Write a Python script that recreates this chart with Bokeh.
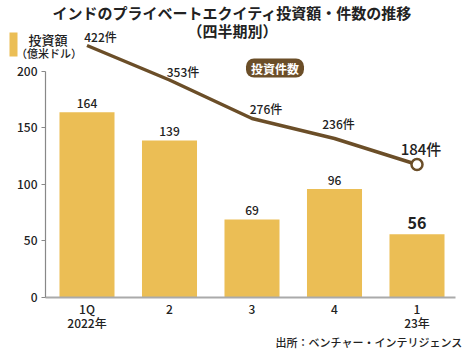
from bokeh.plotting import figure
from bokeh.models import Range1d, Label, FixedTicker, BoxAnnotation
from bokeh.embed import file_html
from bokeh.resources import INLINE

# ---- data ----
quarters = ["1Q\n2022年", "2", "3", "4", "1\n23年"]
amounts = [164, 139, 69, 96, 56]          # 投資額（億米ドル）
counts = [422, 353, 276, 236, 184]        # 投資件数
y_ticks = [0, 50, 100, 150, 200]

title1 = "インドのプライベートエクイティ投資額・件数の推移"
title2 = "（四半期別）"
legend1 = "投資額"
legend2 = "（億米ドル）"
badge = "投資件数"
source = "出所：ベンチャー・インテリジェンス"

JP = "Noto Sans CJK JP Medium, Noto Sans CJK JP"
JPB = "Noto Sans CJK JP"
BAR = "#EBBE55"
BROWN = "#6B4E28"
TXT = "#222222"
W, H = 465, 351
idx = list(range(len(quarters)))

# frame covers the whole canvas; axes are pinned with fixed_location
p = figure(width=W, height=H, output_backend="svg", toolbar_location=None,
           x_range=Range1d(-1.0485, 4.5879), y_range=Range1d(-47.79, 262.83),
           min_border=0)
p.extra_y_ranges = {"cnt": Range1d(-190, 512)}
p.outline_line_color = None
p.grid.visible = False
p.title.visible = False

# axes
p.yaxis.fixed_location = -0.503
p.yaxis.ticker = FixedTicker(ticks=y_ticks)
p.yaxis.bounds = (0, 200)
p.yaxis.axis_line_color = "#888888"
p.yaxis.axis_line_width = 1.2
p.yaxis.major_tick_line_color = "#888888"
p.yaxis.major_tick_in = 0
p.yaxis.major_tick_out = 4
p.yaxis.minor_tick_line_color = None
p.yaxis.major_label_standoff = 4
p.yaxis.major_label_text_font = JP
p.yaxis.major_label_text_font_size = "12px"
p.yaxis.major_label_text_color = TXT

p.xaxis.fixed_location = 0
p.xaxis.ticker = FixedTicker(ticks=idx)
p.xaxis.bounds = (-0.503, 4.467)
p.xaxis.major_label_overrides = {i: q for i, q in zip(idx, quarters)}
p.xaxis.axis_line_color = "#AAAAAA"
p.xaxis.axis_line_width = 2
p.xaxis.major_tick_line_color = None
p.xaxis.minor_tick_line_color = None
p.xaxis.major_tick_out = 0
p.xaxis.major_tick_in = 0
p.xaxis.major_label_standoff = 3
p.xaxis.major_label_text_line_height = 0.8
p.xaxis.major_label_text_font = JP
p.xaxis.major_label_text_font_size = "12px"
p.xaxis.major_label_text_color = TXT

# bars
p.vbar(x=idx, top=amounts, bottom=0, width=0.667, fill_color=BAR, line_color=None)

# line
p.line(idx, counts, y_range_name="cnt", line_width=3.5, line_color=BROWN)
p.scatter([idx[-1]], [counts[-1]], y_range_name="cnt", size=11,
          fill_color="white", line_color=BROWN, line_width=2.5)

# bar labels
for i, a in zip(idx, amounts):
    last = i == idx[-1]
    p.add_layout(Label(x=i, y=a, text=str(a), text_align="center",
                       text_baseline="middle", y_offset=11 if last else 9,
                       text_font=JPB if last else JP,
                       text_font_size="16px" if last else "12px",
                       text_font_style="bold" if last else "normal",
                       text_color=TXT))

# count labels
cnt_offsets = [(13.5, 9), (13.5, 8.5), (14, 10), (4, 15), (4, 16)]
for i, c in zip(idx, counts):
    last = i == idx[-1]
    dx, dy = cnt_offsets[i]
    p.add_layout(Label(x=i, y=c, y_range_name="cnt", text=f"{c}件",
                       text_align="center", text_baseline="middle",
                       x_offset=dx, y_offset=dy, text_font=JP,
                       text_font_size="15px" if last else "12px",
                       text_color=TXT))

# screen placement (frame == canvas, y measured from bottom)
def scr(cx, cy):
    return cx, H - cy

def screen_label(cx, cy, text, **kw):
    x, y = scr(cx, cy)
    opts = dict(text_align="center", text_baseline="middle", text_font=JP,
                text_color=TXT)
    opts.update(kw)
    p.add_layout(Label(x=x, y=y, x_units="screen", y_units="screen",
                       text=text, **opts))

screen_label(232, 12, title1, text_font=JPB, text_font_size="15px",
             text_font_style="bold")
screen_label(232, 30, title2, text_font=JPB, text_font_size="15px",
             text_font_style="bold")

# legend
l, t = scr(9, 32)
r, b = scr(17, 56)
p.add_layout(BoxAnnotation(left=l, right=r, top=t, bottom=b,
                           left_units="screen", right_units="screen",
                           top_units="screen", bottom_units="screen",
                           fill_color=BAR, fill_alpha=1, line_color=None))
screen_label(47.5, 39, legend1, text_font_size="13px")
screen_label(48.5, 52, legend2, text_font_size="11px")

# badge
screen_label(274.5, 67.5, badge, text_font=JPB, text_font_size="12px",
             text_font_style="bold", text_color="white",
             background_fill_color=BROWN, padding=(5, 1), border_radius=8)

# source
screen_label(462, 341, source, text_align="right", text_font_size="11px")

open("out.html", "w").write(file_html(p, INLINE))
